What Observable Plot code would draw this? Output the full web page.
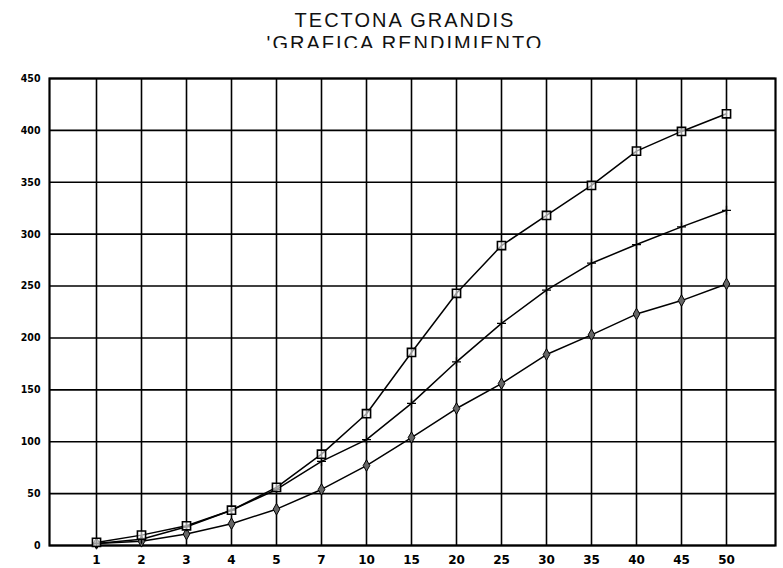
<!DOCTYPE html>
<html>
<head>
<meta charset="utf-8">
<script src="https://cdn.jsdelivr.net/npm/d3@7"></script>
<script src="https://cdn.jsdelivr.net/npm/@observablehq/plot@0.6"></script>
<style>
  html, body { margin: 0; padding: 0; background: #fff; overflow: hidden; }
  #wrap { position: relative; width: 783px; height: 568px; }
  .tl { position: absolute; left: 27px; width: 756px; text-align: center;
        font-family: "Liberation Sans", Arial, sans-serif; font-size: 20px;
        line-height: 20px; letter-spacing: 2px; color: #111; white-space: nowrap; }
  #clip2 { position: absolute; left: 0; top: 0; width: 783px; height: 48px; overflow: hidden; }
  #chart { position: absolute; left: 0; top: 0; }
</style>
</head>
<body>
<div id="wrap">
  <div id="chart"></div>
  <div class="tl" style="top:10px">TECTONA GRANDIS</div>
  <div id="clip2"><div class="tl" style="top:33px">'GRAFICA RENDIMIENTO</div></div>
</div>
<script>
// Categories (age, years)
const years = ["1","2","3","4","5","7","10","15","20","25","30","35","40","45","50"];
// Series values
const serieSquares = [3, 10, 19, 34, 56, 88, 127, 186, 243, 289, 318, 347, 380, 399, 416];
const serieCrosses = [2, 6, 18, 34, 54, 81, 102, 137, 177, 214, 246, 272, 290, 307, 323];
const serieDiamonds = [2, 4, 11, 21, 35, 54, 77, 104, 132, 156, 184, 203, 223, 236, 252];
// Y tick labels
const yTicks = [0, 50, 100, 150, 200, 250, 300, 350, 400, 450];

const rows = (name, vals) => years.map((y, i) => ({year: y, value: vals[i], serie: name}));
const dA = rows("A", serieSquares);
const dB = rows("B", serieCrosses);
const dC = rows("C", serieDiamonds);
const all = [...dA, ...dB, ...dC];

const chart = Plot.plot({
  width: 783,
  height: 568,
  marginTop: 78,
  marginBottom: 23,
  marginLeft: 49,
  marginRight: 8,
  style: {background: "#fff", color: "#000"},
  x: {type: "point", domain: years, range: [90, 731], padding: 0},
  y: {domain: [0, 450]},
  marks: [
    Plot.gridY(yTicks, {stroke: "#000", strokeOpacity: 1, strokeWidth: 1.6}),
    Plot.gridX(years, {stroke: "#000", strokeOpacity: 1, strokeWidth: 1.6}),
    Plot.frame({stroke: "#000", strokeWidth: 2.2}),
    Plot.line(all, {x: "year", y: "value", z: "serie", stroke: "#000", strokeWidth: 1.5}),
    Plot.dot(dC, {x: "year", y: "value", symbol: "diamond", r: 3.5, fill: "#666", stroke: "#000", strokeWidth: 1}),
    Plot.dot(dB, {x: "year", y: "value", symbol: "plus", r: 3, stroke: "#000", strokeWidth: 1.3}),
    Plot.dot(dA, {x: "year", y: "value", symbol: "square", r: 4.6, fill: "#fff", fillOpacity: 0.6, stroke: "#000", strokeWidth: 1.6}),
    Plot.axisY(yTicks, {tickSize: 0, tickPadding: 9, label: null, fontSize: 10.5, fontWeight: "bold",
      fontFamily: "'DejaVu Sans Condensed', 'DejaVu Sans', sans-serif"}),
    Plot.axisX(years, {tickSize: 0, tickPadding: 10, label: null, fontSize: 12, fontWeight: "bold",
      fontFamily: "'DejaVu Sans', sans-serif"})
  ]
});
document.getElementById("chart").appendChild(chart);
</script>
</body>
</html>
